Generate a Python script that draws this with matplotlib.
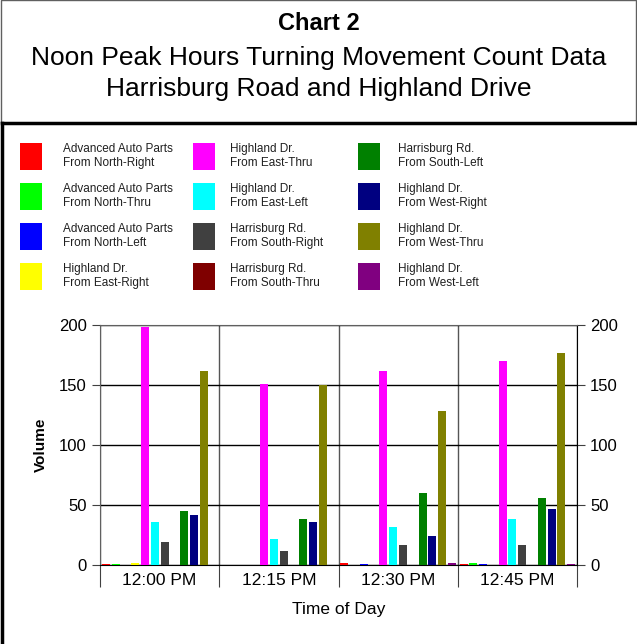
import matplotlib
matplotlib.use('Agg')
import matplotlib.pyplot as plt
from matplotlib.patches import Rectangle
from matplotlib.lines import Line2D
import numpy as np

plt.rcParams['font.family'] = ['Liberation Sans', 'DejaVu Sans']

times = ['12:00 PM', '12:15 PM', '12:30 PM', '12:45 PM']
series = [
    'Advanced Auto Parts\nFrom North-Right',
    'Advanced Auto Parts\nFrom North-Thru',
    'Advanced Auto Parts\nFrom North-Left',
    'Highland Dr.\nFrom East-Right',
    'Highland Dr.\nFrom East-Thru',
    'Highland Dr.\nFrom East-Left',
    'Harrisburg Rd.\nFrom South-Right',
    'Harrisburg Rd.\nFrom South-Thru',
    'Harrisburg Rd.\nFrom South-Left',
    'Highland Dr.\nFrom West-Right',
    'Highland Dr.\nFrom West-Thru',
    'Highland Dr.\nFrom West-Left',
]
colors = ['#ff0000', '#00ff00', '#0000ff', '#ffff00', '#ff00ff', '#00ffff',
          '#404040', '#7f0000', '#008000', '#000080', '#808000', '#800080']

# volumes per series, one value per time period
north_right = [1, 0, 2, 1]
north_thru = [1, 0, 0, 2]
north_left = [0, 0, 1, 1]
east_right = [2, 0, 0, 0]
east_thru = [198, 151, 162, 170]
east_left = [36, 22, 32, 38]
south_right = [19, 12, 17, 17]
south_thru = [0, 0, 0, 0]
south_left = [45, 38, 60, 56]
west_right = [42, 36, 24, 47]
west_thru = [162, 150, 128, 177]
west_left = [0, 0, 2, 1]
values = [north_right, north_thru, north_left, east_right, east_thru, east_left,
          south_right, south_thru, south_left, west_right, west_thru, west_left]

fig = plt.figure(figsize=(6.37, 6.44), dpi=100)

# title box and chart box
fig.patches.append(Rectangle((0.001, 1 - 123 / 644), 0.997, 122.5 / 644, transform=fig.transFigure,
                             fill=False, edgecolor='#606060', lw=1))
fig.lines.append(Line2D([2 / 637, 2 / 637], [0, 1 - 123 / 644], transform=fig.transFigure, color='black', lw=2.5))
fig.lines.append(Line2D([2 / 637, 1], [1 - 123 / 644, 1 - 123 / 644], transform=fig.transFigure, color='black', lw=2.5))

fig.text(0.5, 1 - 23 / 644, 'Chart 2', ha='center', va='center', fontsize=17, fontweight='bold')
fig.text(0.5, 1 - 58 / 644, 'Noon Peak Hours Turning Movement Count Data', ha='center', va='center', fontsize=19)
fig.text(0.5, 1 - 89 / 644, 'Harrisburg Road and Highland Drive', ha='center', va='center', fontsize=19)

# legend swatches
col_x = [20, 193, 358]
text_x = [63, 230, 398]
row_y = [143, 183, 223, 263]
for k, (name, c) in enumerate(zip(series, colors)):
    cx = col_x[k // 4]
    cy = row_y[k % 4]
    fig.patches.append(Rectangle((cx / 637, 1 - (cy + 27) / 644), 22 / 637, 27 / 644,
                                 transform=fig.transFigure, facecolor=c, edgecolor='none'))
    fig.text(text_x[k // 4] / 637, 1 - (cy + 13) / 644, name, ha='left', va='center',
             fontsize=8.5, linespacing=1.2, color='#202020')

ax = fig.add_axes([100 / 637, 1 - 565 / 644, 477 / 637, 240 / 644])
x = np.arange(len(times))
step = 0.082
for j, (vals, c) in enumerate(zip(values, colors)):
    ax.bar(x + (j - 5.5) * step, vals, width=0.067, color=c, edgecolor='none', zorder=3)

ax.set_xlim(-0.5, 3.5)
ax.set_ylim(0, 200)
ax.set_yticks([0, 50, 100, 150, 200])
ax.yaxis.grid(True, color='black', lw=1, zorder=1)
ax.set_xticks(np.arange(-0.5, 4, 1))
ax.set_xticklabels([])
ax.set_xticks(x, minor=True)
ax.set_xticklabels(times, minor=True, fontsize=12.5)
ax.tick_params(axis='x', which='major', length=16, color='#404040')
ax.tick_params(axis='x', which='minor', length=0, pad=6)
ax.xaxis.grid(True, which='major', color='#555555', lw=1, zorder=1)
ax.tick_params(axis='y', which='both', left=True, right=True, labelleft=True, labelright=True,
               length=6, labelsize=12, color='#404040')
for s in ['left', 'top']:
    ax.spines[s].set_color('#606060')
ax.spines['right'].set_color('black')
ax.spines['bottom'].set_color('black')
ax.set_ylabel('Volume', fontsize=11, fontweight='bold', labelpad=8)
ax.set_xlabel('Time of Day', fontsize=12.5, labelpad=7)

fig.savefig('out.png', dpi=100)
